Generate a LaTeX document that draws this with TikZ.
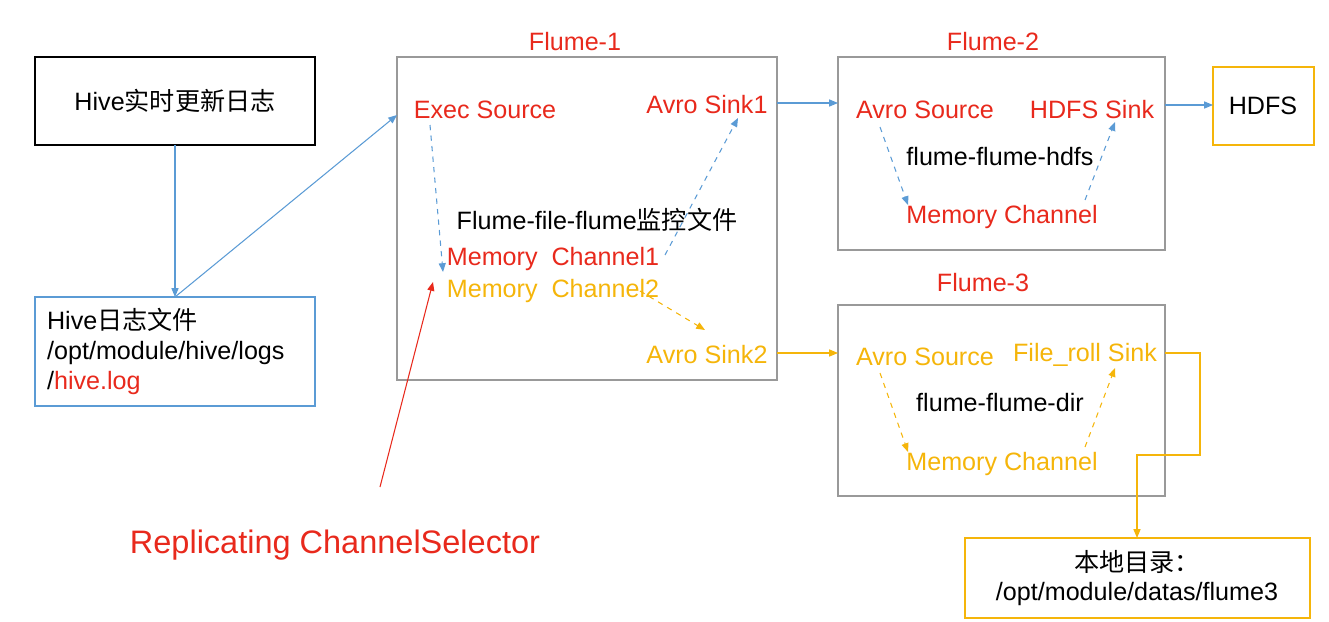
\documentclass[tikz,border=0pt]{standalone}
\usepackage{fontspec}
\setmainfont{Liberation Sans}
\newfontfamily\cjk{Noto Sans CJK SC}
\usetikzlibrary{arrows.meta}
\definecolor{fred}{HTML}{E8291C}
\definecolor{forange}{HTML}{F5B50A}
\definecolor{fblue}{HTML}{5B9BD5}
\definecolor{fgray}{HTML}{999999}
\begin{document}
\begin{tikzpicture}[x=0.02cm,y=-0.02cm,
  txt/.style={font=\fontsize{14.3}{17}\selectfont, inner sep=1pt},
  conn/.style={-{Triangle[length=5pt,width=4pt]}, line width=0.6pt},
  dconn/.style={conn, dashed}]
  \useasboundingbox (0,0) rectangle (1329,622);

  % left boxes
  \draw[line width=0.9pt] (35,57) rectangle (315,145);
  \node[txt] (hive) at (175,101) {Hive{\cjk 实时更新日志}};
  \coordinate (hiveb) at (175,145);
  \draw[fblue, line width=0.9pt] (35,297) rectangle (315,406);
  \node[txt, align=left, anchor=north west] (log) at (45,306)
    {Hive{\cjk 日志文件}\\/opt/module/hive/logs\\/\textcolor{fred}{hive.log}};
  \coordinate (logt) at (175,297);

  % Flume-1
  \draw[fgray, line width=0.9pt] (397,57) rectangle (777,380);
  \coordinate (f1l) at (397,115);
  \node[txt, fred] (t1) at (575,42) {Flume-1};
  \node[txt, fred] (exec) at (485,110) {Exec Source};
  \node[txt, fred] (as1) at (707,105) {Avro Sink1};
  \node[txt] (ff) at (597,220) {Flume-file-flume{\cjk 监控文件}};
  \node[txt, fred] (mc1) at (553,259) {Memory\ \ Channel1};
  \node[txt, forange] (mc2) at (553,291) {Memory\ \ Channel2};
  \node[txt, forange] (as2) at (707,355) {Avro Sink2};

  % Flume-2
  \draw[fgray, line width=0.9pt] (838,57) rectangle (1165,250);
  \node[txt, fred] (t2) at (993,42) {Flume-2};
  \node[txt, fred] (src2) at (925,110) {Avro Source};
  \node[txt, fred] (hs) at (1092,110) {HDFS Sink};
  \node[txt] (fh) at (1000,157) {flume-flume-hdfs};
  \node[txt, fred] (m2) at (1002,217) {Memory Channel};
  \draw[forange, line width=0.9pt] (1213,67) rectangle (1314,145);
  \node[txt] (hdfs) at (1263,106) {HDFS};

  % Flume-3
  \draw[fgray, line width=0.9pt] (838,305) rectangle (1165,496);
  \node[txt, fred] (t3) at (983,283) {Flume-3};
  \node[txt, forange] (src3) at (925,357) {Avro Source};
  \node[txt, forange] (fr) at (1085,355) {File\_roll Sink};
  \node[txt] (fd) at (1000,403) {flume-flume-dir};
  \node[txt, forange] (m3) at (1002,464) {Memory Channel};
  \draw[forange, line width=0.9pt] (965,538) rectangle (1310,618);
  \node[txt, align=center] (local) at (1137,578) {{\cjk 本地目录：}\\/opt/module/datas/flume3};

  \node[fred, font=\fontsize{18.5}{22}\selectfont] (rep) at (335,545) {Replicating ChannelSelector};

  % connectors
  \draw[conn, fblue] (hiveb) -- (logt);
  \draw[conn, fblue] (logt) -- (f1l);
  \draw[dconn, fblue] (430,125) -- (443,272);
  \draw[dconn, fblue] (665,255) -- (738,118);
  \draw[dconn, forange] (640,291) -- (705,330);
  \draw[conn, fblue] (777,103) -- (838,103);
  \draw[conn, forange] (777,353) -- (838,353);
  \draw[dconn, fblue] (880,127) -- (908,205);
  \draw[dconn, fblue] (1085,200) -- (1115,122);
  \draw[conn, fblue] (1165,105) -- (1213,105);
  \draw[dconn, forange] (880,373) -- (908,452);
  \draw[dconn, forange] (1085,447) -- (1115,368);
  \draw[conn, forange] (1165,353) -- (1200,353) -- (1200,455) -- (1137,455) -- (1137,538);
  \draw[conn, fred] (380,487) -- (433,282);
\end{tikzpicture}
\end{document}
